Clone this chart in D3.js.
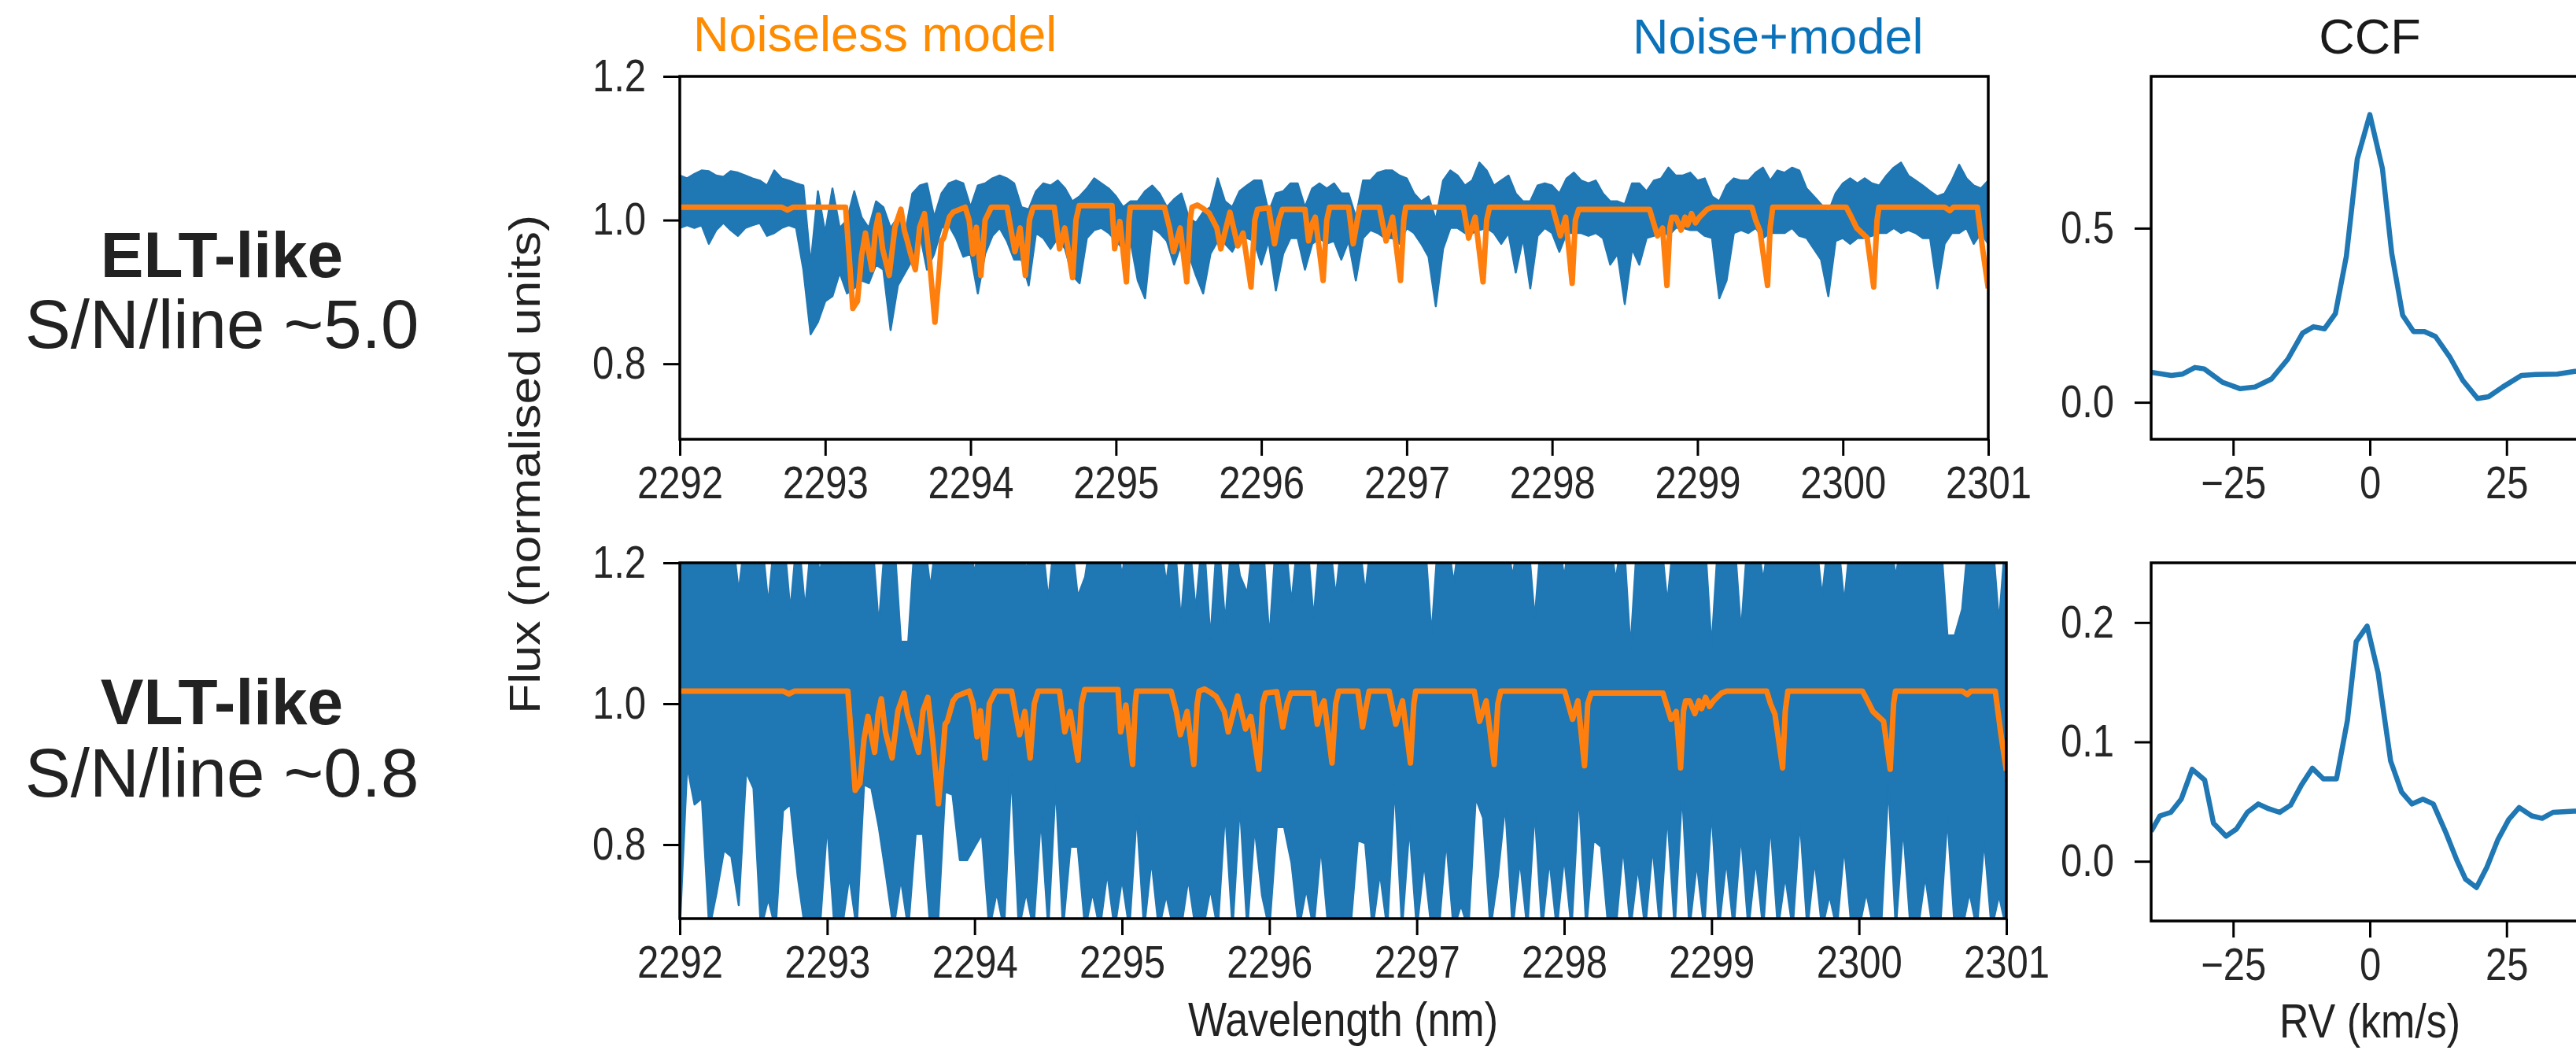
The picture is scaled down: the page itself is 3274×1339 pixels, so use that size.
<!DOCTYPE html>
<html lang="en">
<head>
<meta charset="UTF-8">
<title>ELT vs VLT: spectra and CCF</title>
<script src="https://d3js.org/d3.v7.min.js"></script>
<style>
    body { margin: 0; background: #fff; }
    svg { display: block; font-family: "Liberation Sans", Arial, Helvetica, sans-serif; }
    .label { fill: #222; }
</style>
</head>
<body>
<svg id="fig" width="3274" height="1339"></svg>
<script>
// ---- data ----
// sampling grid of the noisy spectra (nm)
var gridWave = [
    2292.00,2292.05,2292.10,2292.15,2292.20,2292.25,2292.30,2292.35,2292.40,2292.45,2292.50,2292.55,2292.60,2292.65,2292.70,2292.75,2292.80,2292.85,2292.90,2292.95,
    2293.00,2293.05,2293.10,2293.15,2293.20,2293.25,2293.30,2293.35,2293.40,2293.45,2293.50,2293.55,2293.60,2293.65,2293.70,2293.75,2293.80,2293.85,2293.90,2293.95,
    2294.00,2294.05,2294.10,2294.15,2294.20,2294.25,2294.30,2294.35,2294.40,2294.45,2294.50,2294.55,2294.60,2294.65,2294.70,2294.75,2294.80,2294.85,2294.90,2294.95,
    2295.00,2295.05,2295.10,2295.15,2295.20,2295.25,2295.30,2295.35,2295.40,2295.45,2295.50,2295.55,2295.60,2295.65,2295.70,2295.75,2295.80,2295.85,2295.90,2295.95,
    2296.00,2296.05,2296.10,2296.15,2296.20,2296.25,2296.30,2296.35,2296.40,2296.45,2296.50,2296.55,2296.60,2296.65,2296.70,2296.75,2296.80,2296.85,2296.90,2296.95,
    2297.00,2297.05,2297.10,2297.15,2297.20,2297.25,2297.30,2297.35,2297.40,2297.45,2297.50,2297.55,2297.60,2297.65,2297.70,2297.75,2297.80,2297.85,2297.90,2297.95,
    2298.00,2298.05,2298.10,2298.15,2298.20,2298.25,2298.30,2298.35,2298.40,2298.45,2298.50,2298.55,2298.60,2298.65,2298.70,2298.75,2298.80,2298.85,2298.90,2298.95,
    2299.00,2299.05,2299.10,2299.15,2299.20,2299.25,2299.30,2299.35,2299.40,2299.45,2299.50,2299.55,2299.60,2299.65,2299.70,2299.75,2299.80,2299.85,2299.90,2299.95,
    2300.00,2300.05,2300.10,2300.15,2300.20,2300.25,2300.30,2300.35,2300.40,2300.45,2300.50,2300.55,2300.60,2300.65,2300.70,2300.75,2300.80,2300.85,2300.90,2300.95,
    2301.00
];

// ELT-like noise+model: upper / lower envelope of the blue trace
var eltHigh = [
    1.062,1.058,1.064,1.069,1.068,1.062,1.060,1.068,1.066,1.062,1.058,1.055,1.048,1.069,1.058,1.055,1.051,1.048,0.938,1.040,
    0.982,1.044,0.989,1.000,1.040,1.004,0.989,1.026,1.018,0.989,1.004,0.982,1.037,1.048,1.051,1.004,1.037,1.051,1.055,1.051,
    1.018,1.048,1.051,1.058,1.062,1.058,1.051,1.018,1.015,1.040,1.051,1.048,1.055,1.044,1.026,1.033,1.044,1.058,1.051,1.044,
    1.033,1.018,1.026,1.026,1.040,1.048,1.037,1.018,1.029,1.037,1.004,0.996,1.011,1.018,1.058,1.026,1.018,1.040,1.048,1.055,
    1.055,1.011,1.037,1.040,1.051,1.051,1.018,1.044,1.051,1.044,1.051,1.037,1.037,1.004,1.055,1.055,1.066,1.069,1.069,1.062,
    1.058,1.037,1.026,1.033,1.000,1.055,1.069,1.062,1.048,1.055,1.080,1.069,1.048,1.055,1.062,1.037,1.026,1.026,1.048,1.051,
    1.048,1.037,1.058,1.066,1.055,1.051,1.055,1.037,1.026,1.026,1.022,1.051,1.051,1.040,1.055,1.058,1.073,1.062,1.062,1.066,
    1.055,1.058,1.033,1.026,1.048,1.058,1.055,1.055,1.066,1.073,1.055,1.069,1.066,1.073,1.069,1.044,1.033,1.022,1.011,1.037,
    1.051,1.058,1.051,1.058,1.051,1.048,1.062,1.073,1.080,1.062,1.055,1.048,1.040,1.033,1.037,1.055,1.077,1.058,1.048,1.044,
    1.055
];
var eltLow = [
    0.989,0.993,0.989,0.993,0.967,0.986,0.996,0.986,0.978,0.989,0.993,0.996,0.978,0.982,0.989,0.993,0.989,0.931,0.841,0.858,
    0.887,0.894,0.927,0.898,0.905,0.916,0.912,0.938,0.931,0.847,0.909,0.927,0.945,0.982,0.931,0.953,0.989,0.993,0.975,0.949,
    0.953,0.898,0.953,0.978,0.989,0.971,0.945,0.945,0.909,0.982,0.975,0.960,0.975,0.960,0.923,0.912,0.975,0.986,0.989,0.982,
    0.971,0.960,0.971,0.916,0.891,0.989,0.982,0.971,0.938,0.967,0.953,0.923,0.898,0.953,0.971,0.967,0.956,0.975,0.975,0.971,
    0.938,0.971,0.902,0.953,0.975,0.975,0.931,0.967,0.975,0.967,0.971,0.945,0.971,0.916,0.975,0.986,0.982,0.975,0.975,0.967,
    0.989,0.982,0.967,0.949,0.880,0.960,0.989,0.989,0.982,0.982,0.986,0.989,0.982,0.967,0.982,0.927,0.975,0.905,0.978,0.989,
    0.982,0.956,0.982,0.982,0.982,0.978,0.982,0.975,0.938,0.953,0.883,0.960,0.938,0.975,0.978,0.989,0.978,0.989,0.989,0.986,
    0.986,0.978,0.975,0.891,0.916,0.982,0.986,0.982,0.989,0.975,0.982,0.982,0.982,0.989,0.978,0.975,0.960,0.945,0.894,0.971,
    0.975,0.967,0.975,0.975,0.978,0.982,0.982,0.989,0.982,0.986,0.982,0.975,0.975,0.905,0.967,0.982,0.982,0.989,0.967,0.982,
    0.967
];

// VLT-like noise+model: envelope (values outside the axis range are clipped)
var vltHigh = [
    1.25,1.25,1.25,1.25,1.25,1.25,1.25,1.25,1.159,1.25,1.25,1.25,1.141,1.25,1.25,1.132,1.25,1.134,1.25,1.185,
    1.25,1.25,1.194,1.25,1.25,1.25,1.25,1.111,1.25,1.25,1.088,1.088,1.25,1.25,1.164,1.25,1.25,1.25,1.25,1.25,
    1.185,1.25,1.25,1.25,1.25,1.25,1.25,1.188,1.25,1.25,1.148,1.25,1.25,1.25,1.152,1.180,1.25,1.25,1.25,1.25,
    1.182,1.25,1.25,1.25,1.25,1.25,1.171,1.25,1.118,1.25,1.132,1.25,1.092,1.25,1.115,1.25,1.182,1.157,1.25,1.25,
    1.092,1.25,1.25,1.143,1.25,1.25,1.120,1.25,1.25,1.152,1.25,1.25,1.25,1.157,1.25,1.25,1.25,1.25,1.25,1.25,
    1.25,1.25,1.097,1.25,1.25,1.171,1.25,1.25,1.25,1.25,1.25,1.25,1.25,1.180,1.25,1.25,1.120,1.25,1.25,1.25,
    1.180,1.25,1.25,1.25,1.25,1.25,1.25,1.175,1.25,1.078,1.25,1.25,1.25,1.25,1.143,1.25,1.25,1.25,1.25,1.25,
    1.080,1.25,1.25,1.25,1.102,1.25,1.25,1.175,1.25,1.25,1.25,1.25,1.25,1.25,1.25,1.152,1.25,1.25,1.143,1.25,
    1.25,1.25,1.25,1.25,1.25,1.180,1.25,1.25,1.25,1.25,1.25,1.25,1.097,1.097,1.134,1.25,1.25,1.25,1.25,1.115,
    1.25
];
var vltLow = [
    0.68,0.912,0.857,0.866,0.68,0.732,0.792,0.783,0.714,0.903,0.880,0.68,0.723,0.68,0.848,0.857,0.755,0.68,0.68,0.68,
    0.829,0.68,0.68,0.755,0.68,0.885,0.880,0.825,0.755,0.68,0.751,0.68,0.815,0.815,0.68,0.68,0.875,0.871,0.778,0.778,
    0.797,0.815,0.68,0.732,0.68,0.903,0.68,0.732,0.68,0.838,0.68,0.885,0.68,0.797,0.797,0.68,0.732,0.68,0.760,0.68,
    0.751,0.68,0.843,0.68,0.778,0.68,0.728,0.68,0.68,0.751,0.68,0.68,0.737,0.68,0.848,0.68,0.857,0.68,0.825,0.728,
    0.68,0.825,0.825,0.774,0.68,0.737,0.68,0.797,0.68,0.68,0.700,0.68,0.806,0.802,0.68,0.760,0.68,0.885,0.68,0.825,
    0.68,0.774,0.68,0.68,0.806,0.68,0.714,0.68,0.866,0.838,0.68,0.755,0.857,0.68,0.778,0.68,0.848,0.68,0.778,0.68,
    0.783,0.68,0.875,0.68,0.806,0.797,0.68,0.68,0.797,0.68,0.769,0.68,0.797,0.68,0.843,0.68,0.875,0.68,0.774,0.68,
    0.848,0.68,0.778,0.68,0.815,0.68,0.778,0.68,0.829,0.68,0.755,0.68,0.834,0.68,0.778,0.68,0.728,0.68,0.797,0.68,
    0.68,0.732,0.68,0.68,0.885,0.68,0.825,0.68,0.68,0.755,0.68,0.68,0.838,0.68,0.68,0.732,0.68,0.806,0.68,0.728,
    0.68
];

// noiseless model (same in both rows)
var modelWave = [
    2292.000,2292.700,2292.740,2292.780,2293.140,2293.165,2293.190,2293.205,2293.222,2293.250,2293.277,2293.300,2293.322,2293.345,2293.367,
    2293.395,2293.440,2293.480,2293.521,2293.545,2293.565,2293.585,2293.620,2293.650,2293.683,2293.715,2293.755,2293.785,2293.800,2293.815,
    2293.835,2293.854,2293.880,2293.963,2293.990,2294.017,2294.040,2294.071,2294.100,2294.143,2294.251,2294.275,2294.305,2294.341,2294.377,
    2294.405,2294.431,2294.576,2294.612,2294.648,2294.702,2294.725,2294.747,2294.973,2294.991,2295.027,2295.072,2295.090,2295.099,2295.333,
    2295.369,2295.396,2295.442,2295.487,2295.510,2295.523,2295.560,2295.600,2295.640,2295.694,2295.721,2295.784,2295.838,2295.874,2295.929,
    2295.955,2295.974,2296.050,2296.091,2296.120,2296.145,2296.300,2296.325,2296.350,2296.371,2296.425,2296.450,2296.470,2296.600,2296.632,
    2296.660,2296.677,2296.812,2296.858,2296.903,2296.957,2296.980,2296.993,2297.390,2297.426,2297.471,2297.525,2297.550,2297.570,2298.003,
    2298.057,2298.093,2298.138,2298.160,2298.183,2298.670,2298.725,2298.760,2298.790,2298.810,2298.824,2298.851,2298.887,2298.914,2298.932,
    2298.959,2298.986,2299.013,2299.067,2299.103,2299.374,2299.400,2299.430,2299.482,2299.500,2299.518,2300.023,2300.059,2300.095,2300.167,
    2300.212,2300.235,2300.248,2300.700,2300.735,2300.760,2300.925,2300.961,2301.000
];
var modelFlux = [
    1.018,1.018,1.014,1.018,1.018,0.950,0.877,0.882,0.887,0.950,0.982,0.955,0.931,0.985,1.007,
    0.960,0.923,0.990,1.015,0.985,0.971,0.955,0.931,0.990,1.009,0.950,0.858,0.930,0.971,0.975,
    0.990,1.004,1.011,1.018,1.000,0.953,0.990,0.923,1.000,1.018,1.018,0.990,0.956,0.989,0.923,
    1.000,1.018,1.018,0.960,0.989,0.920,1.000,1.020,1.020,0.960,0.998,0.914,1.000,1.018,1.018,
    0.989,0.956,0.989,0.914,1.000,1.018,1.021,1.016,1.010,0.989,0.960,1.011,0.964,0.982,0.907,
    1.000,1.015,1.017,0.967,1.000,1.015,1.015,0.971,0.995,1.004,0.916,1.000,1.018,1.018,0.967,
    1.000,1.018,1.018,0.971,1.004,0.916,1.000,1.018,1.018,0.975,1.004,0.914,1.000,1.018,1.018,
    0.978,1.004,0.912,1.000,1.015,1.015,0.978,0.989,0.909,0.990,1.004,1.004,0.986,1.004,0.993,
    1.009,0.996,1.004,1.015,1.018,1.018,1.000,0.985,0.909,0.990,1.018,1.018,1.004,0.989,0.975,
    0.907,1.000,1.018,1.018,1.013,1.018,1.018,0.960,0.905
];

// cross-correlation functions
var ccfEltRv = [-40,-36.3,-34.3,-32,-30.3,-27,-23.7,-21,-18,-15,-12.3,-10.3,-8.3,-6.3,-4.3,-2.3,0,2.3,4,6,8,10,12,14.7,17,19.7,21.7,24.3,27.7,30.3,34.3,37.5,40];
var ccfEltVal = [0.086,0.077,0.081,0.100,0.096,0.058,0.039,0.044,0.067,0.124,0.199,0.217,0.211,0.255,0.419,0.699,0.826,0.671,0.428,0.250,0.203,0.203,0.189,0.128,0.063,0.011,0.016,0.044,0.077,0.080,0.081,0.089,0.090];
var ccfVltRv = [-40,-38.4,-36.4,-34.5,-32.5,-30.2,-28.6,-26.3,-24.4,-22.4,-20.4,-18.5,-16.5,-14.5,-12.5,-10.5,-8.5,-6.1,-4.1,-2.5,-0.5,1.5,3.8,5.8,7.7,9.7,11.6,13.9,15.9,17.5,19.5,21.4,23.4,25.4,27.3,29.6,31.5,33.5,37.3,40];
var ccfVltVal = [0.025,0.038,0.041,0.052,0.077,0.068,0.032,0.021,0.027,0.041,0.048,0.044,0.041,0.047,0.064,0.078,0.069,0.069,0.118,0.184,0.197,0.158,0.084,0.058,0.048,0.052,0.048,0.024,0.001,-0.015,-0.022,-0.005,0.018,0.035,0.045,0.038,0.036,0.041,0.042,0.042];

// ticks
var waveTicks = [2292,2293,2294,2295,2296,2297,2298,2299,2300,2301];
var fluxTicks = [0.8,1.0,1.2];
var rvTicks = [-25,0,25];
var ccfEltTicks = [0.0,0.5];
var ccfVltTicks = [0.0,0.1,0.2];

// ---- layout ----
var configuration = {
    "spec_top":    {left: 864,  right: 2527, top: 97,  bottom: 558},
    "spec_bottom": {left: 864,  right: 2550, top: 715, bottom: 1167},
    "ccf_top":     {left: 2734, right: 3290, top: 97,  bottom: 558},
    "ccf_bottom":  {left: 2734, right: 3290, top: 715, bottom: 1170},
    "wave_domain": [2292, 2301],
    "flux_domain": [0.695, 1.2],
    "rv_domain": [-40, 40],
    "ccf_top_domain": [-0.106, 0.936],
    "ccf_bottom_domain": [-0.05, 0.25],
    "tick_size": 21,
    "tick_font": 49,
    "text_stretch": 1.16,
    "blue": "#1f77b4",
    "orange": "#ff7f0e"
};

var svg = d3.select("#fig");
var defs = svg.append("defs");

function makePanel(name, box, xDomain, yDomain, xTicks, yTicks, yPad) {
    var x = d3.scaleLinear().domain(xDomain).range([box.left, box.right]);
    var y = d3.scaleLinear().domain(yDomain).range([box.bottom, box.top]);
    var st = configuration.text_stretch;

    defs.append("clipPath").attr("id", "clip-" + name)
        .append("rect")
        .attr("x", box.left).attr("y", box.top)
        .attr("width", box.right - box.left).attr("height", box.bottom - box.top);

    var g = svg.append("g").attr("class", name);
    var plot = g.append("g").attr("clip-path", "url(#clip-" + name + ")");

    var xa = g.append("g")
        .attr("transform", "translate(0," + box.bottom + ")")
        .call(d3.axisBottom(x).tickValues(xTicks).tickSize(configuration.tick_size)
            .tickSizeOuter(0).tickFormat(d3.format("d")));
    var ya = g.append("g")
        .attr("transform", "translate(" + box.left + ",0)")
        .call(d3.axisLeft(y).tickValues(yTicks).tickSize(configuration.tick_size)
            .tickSizeOuter(0).tickPadding(yPad).tickFormat(d3.format(".1f")));

    [xa, ya].forEach(function (a) {
        a.attr("font-family", null).attr("font-size", configuration.tick_font);
        a.select(".domain").remove();
        a.selectAll("line").attr("stroke", "#000").attr("stroke-width", 3);
        a.selectAll("text").attr("fill", "#262626").attr("transform", "scale(1," + st + ")");
    });
    // keep cap top of x labels ~35px under the axis once stretched
    xa.selectAll("text").attr("y", 35 / st);

    return {x: x, y: y, plot: plot, g: g, box: box};
}

function drawBox(p) {
    p.g.append("rect")
        .attr("x", p.box.left).attr("y", p.box.top)
        .attr("width", p.box.right - p.box.left).attr("height", p.box.bottom - p.box.top)
        .attr("fill", "none").attr("stroke", "#000").attr("stroke-width", 3.5);
}

function drawSpectrum(p, hi, lo) {
    var rows = gridWave.map(function (w, i) { return {w: w, hi: hi[i], lo: lo[i]}; });
    var band = d3.area()
        .x(function (d) { return p.x(d.w); })
        .y0(function (d) { return p.y(d.lo); })
        .y1(function (d) { return p.y(d.hi); });
    p.plot.append("path")
        .datum(rows)
        .attr("d", band)
        .attr("fill", configuration.blue)
        .attr("stroke", configuration.blue)
        .attr("stroke-width", 2.5)
        .attr("stroke-linejoin", "round");

    var model = modelWave.map(function (w, i) { return {w: w, f: modelFlux[i]}; });
    p.plot.append("path")
        .datum(model)
        .attr("d", d3.line().x(function (d) { return p.x(d.w); }).y(function (d) { return p.y(d.f); }))
        .attr("fill", "none")
        .attr("stroke", configuration.orange)
        .attr("stroke-width", 7)
        .attr("stroke-linejoin", "round");
}

function drawCcf(p, rv, val) {
    var rows = rv.map(function (v, i) { return {v: v, c: val[i]}; });
    p.plot.append("path")
        .datum(rows)
        .attr("d", d3.line().x(function (d) { return p.x(d.v); }).y(function (d) { return p.y(d.c); }))
        .attr("fill", "none")
        .attr("stroke", configuration.blue)
        .attr("stroke-width", 6.5)
        .attr("stroke-linejoin", "round");
}

var specTop = makePanel("spec_top", configuration.spec_top, configuration.wave_domain, configuration.flux_domain, waveTicks, fluxTicks, 22);
drawSpectrum(specTop, eltHigh, eltLow);
drawBox(specTop);

var specBot = makePanel("spec_bottom", configuration.spec_bottom, configuration.wave_domain, configuration.flux_domain, waveTicks, fluxTicks, 22);
drawSpectrum(specBot, vltHigh, vltLow);
drawBox(specBot);

var ccfTop = makePanel("ccf_top", configuration.ccf_top, configuration.rv_domain, configuration.ccf_top_domain, rvTicks, ccfEltTicks, 26);
drawCcf(ccfTop, ccfEltRv, ccfEltVal);
drawBox(ccfTop);

var ccfBot = makePanel("ccf_bottom", configuration.ccf_bottom, configuration.rv_domain, configuration.ccf_bottom_domain, rvTicks, ccfVltTicks, 26);
drawCcf(ccfBot, ccfVltRv, ccfVltVal);
drawBox(ccfBot);

// ---- texts ----
svg.append("text").text("Noiseless model")
    .attr("x", 881).attr("y", 65).attr("font-size", 63).attr("fill", "#ff8c00");
svg.append("text").text("Noise+model")
    .attr("x", 2075).attr("y", 68).attr("font-size", 63).attr("fill", "#0a72ba");
svg.append("text").text("CCF")
    .attr("x", 3012).attr("y", 68).attr("font-size", 63).attr("text-anchor", "middle").attr("fill", "#1a1a1a");

var st = configuration.text_stretch;
svg.append("text").text("Wavelength (nm)").attr("class", "label")
    .attr("transform", "translate(1707,1316) scale(1," + st + ")")
    .attr("font-size", 52).attr("text-anchor", "middle");
svg.append("text").text("RV (km/s)").attr("class", "label")
    .attr("transform", "translate(3012,1318) scale(1," + st + ")")
    .attr("font-size", 52).attr("text-anchor", "middle");
svg.append("text").text("Flux (normalised units)").attr("class", "label")
    .attr("transform", "translate(686,590) scale(1,1.14) rotate(-90)")
    .attr("font-size", 55).attr("text-anchor", "middle");

svg.append("text").text("ELT-like").attr("class", "label")
    .attr("x", 282).attr("y", 352).attr("font-size", 82).attr("font-weight", "bold").attr("text-anchor", "middle");
svg.append("text").text("S/N/line ~5.0").attr("class", "label")
    .attr("x", 282).attr("y", 442).attr("font-size", 87).attr("text-anchor", "middle");
svg.append("text").text("VLT-like").attr("class", "label")
    .attr("x", 282).attr("y", 920).attr("font-size", 82).attr("font-weight", "bold").attr("text-anchor", "middle");
svg.append("text").text("S/N/line ~0.8").attr("class", "label")
    .attr("x", 282).attr("y", 1012).attr("font-size", 87).attr("text-anchor", "middle");
</script>
</body>
</html>
